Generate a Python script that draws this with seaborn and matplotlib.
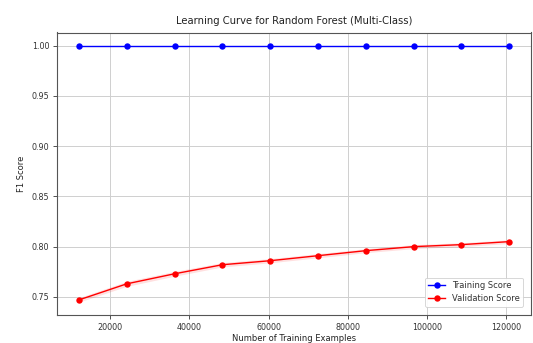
import numpy as np
import pandas as pd
import matplotlib
matplotlib.use("Agg")
import matplotlib.pyplot as plt
import seaborn as sns

# Learning-curve results
train_sizes = [12076, 24152, 36228, 48304, 60380, 72456, 84532, 96608, 108684, 120760]
train_mean = [1.0, 1.0, 1.0, 1.0, 1.0, 1.0, 1.0, 1.0, 1.0, 1.0]
train_std = [0.0, 0.0, 0.0, 0.0, 0.0, 0.0, 0.0, 0.0, 0.0, 0.0]
val_mean = [0.747, 0.763, 0.773, 0.782, 0.786, 0.791, 0.796, 0.800, 0.802, 0.805]
val_std = [0.0022, 0.0025, 0.0024, 0.0022, 0.0021, 0.0021, 0.0020, 0.0020, 0.0019, 0.0019]

df = pd.DataFrame({
    "size": train_sizes * 2,
    "score": train_mean + val_mean,
    "curve": ["Training Score"] * len(train_sizes) + ["Validation Score"] * len(train_sizes),
})

W, H = 533, 343
fig = plt.figure(figsize=(W / 100, H / 100), dpi=100)
ax = fig.add_axes([57 / W, 1 - 315 / H, (531 - 57) / W, (315 - 32.5) / H])

sns.lineplot(data=df, x="size", y="score", hue="curve",
             palette={"Training Score": "blue", "Validation Score": "red"},
             marker="o", markersize=4.6, markeredgewidth=0, linewidth=1.0,
             ax=ax, legend=True)

tm, ts = np.array(train_mean), np.array(train_std)
vm, vs = np.array(val_mean), np.array(val_std)
ax.fill_between(train_sizes, tm - ts, tm + ts, color="blue", alpha=0.1, linewidth=0)
ax.fill_between(train_sizes, vm - vs, vm + vs, color="red", alpha=0.12, linewidth=0)

ax.set_xlim(6540, 126240)
ax.set_ylim(0.732, 1.013)
ax.set_yticks([0.75, 0.80, 0.85, 0.90, 0.95, 1.00])
ax.set_xticks([20000, 40000, 60000, 80000, 100000, 120000])
ax.grid(True, color="#cfcfcf", linewidth=0.7)
ax.set_axisbelow(True)
for s in ax.spines.values():
    s.set_color("#555555")
    s.set_linewidth(0.8)

ax.tick_params(labelsize=5.8, colors="#333333", length=3, width=0.6, pad=2.5)
ax.set_title("Learning Curve for Random Forest (Multi-Class)", fontsize=7.2, color="#222222", pad=6)
ax.set_xlabel("Number of Training Examples", fontsize=6, color="#222222", labelpad=2)
ax.set_ylabel("F1 Score", fontsize=6, color="#222222", labelpad=4)

leg = ax.legend(loc="lower right", fontsize=6, title=None, framealpha=0.9,
                edgecolor="#cccccc", fancybox=True, borderpad=0.4, handlelength=2.0,
                bbox_to_anchor=(0.992, 0.015))
leg.get_frame().set_linewidth(0.6)
for t in leg.get_texts():
    t.set_color("#333333")

fig.savefig("out.png", dpi=100, facecolor="white")
